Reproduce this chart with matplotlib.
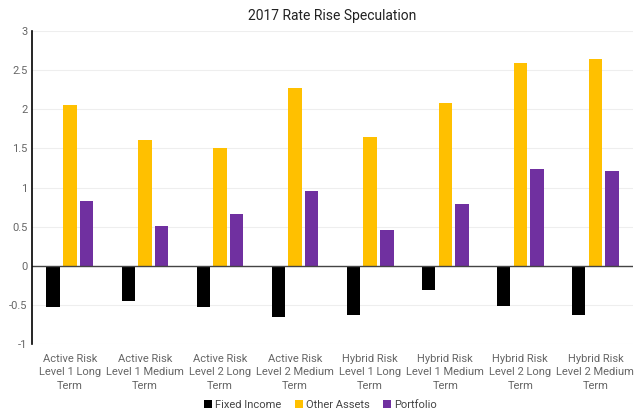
import numpy as np
import matplotlib
matplotlib.use("Agg")
import matplotlib.pyplot as plt

categories = [
    "Active Risk\nLevel 1 Long\nTerm",
    "Active Risk\nLevel 1 Medium\nTerm",
    "Active Risk\nLevel 2 Long\nTerm",
    "Active Risk\nLevel 2 Medium\nTerm",
    "Hybrid Risk\nLevel 1 Long\nTerm",
    "Hybrid Risk\nLevel 1 Medium\nTerm",
    "Hybrid Risk\nLevel 2 Long\nTerm",
    "Hybrid Risk\nLevel 2 Medium\nTerm",
]
fixed_income = [-0.53, -0.45, -0.53, -0.65, -0.62, -0.31, -0.51, -0.63]
other_assets = [2.05, 1.61, 1.505, 2.27, 1.65, 2.08, 2.59, 2.64]
portfolio = [0.83, 0.51, 0.66, 0.96, 0.46, 0.79, 1.23, 1.21]
yticks = [-1, -0.5, 0, 0.5, 1, 1.5, 2, 2.5, 3]

plt.rcParams["font.family"] = ["Roboto", "DejaVu Sans"]

fig = plt.figure(figsize=(6.41, 4.13), dpi=100)
ax = fig.add_axes([0.0504, 0.1663, 0.937, 0.7594])

x = np.arange(len(categories))
w = 0.178
pitch = 0.222
ax.bar(x - pitch, fixed_income, w, color="black", label="Fixed Income")
ax.bar(x, other_assets, w, color="#FFC000", label="Other Assets")
ax.bar(x + pitch, portfolio, w, color="#7030A0", label="Portfolio")

ax.set_xlim(-0.5, len(categories) - 0.5)
ax.set_ylim(-1, 3)
ax.set_yticks(yticks)
ax.set_yticklabels([f"{t:g}" for t in yticks])
ax.set_xticks(x)
ax.set_xticklabels(categories, linespacing=1.42)
ax.tick_params(axis="both", length=0, labelsize=8, colors="#666666")
ax.tick_params(axis="x", pad=7)
ax.grid(axis="y", color="#eeeeee", linewidth=0.8)
ax.set_axisbelow(True)
ax.axhline(0, color="#444444", linewidth=1)
for s in ["top", "right", "bottom"]:
    ax.spines[s].set_visible(False)
ax.spines["left"].set_color("black")
ax.spines["left"].set_linewidth(1.2)

ax.set_title("2017 Rate Rise Speculation", fontsize=10, color="#222222", pad=8)
leg = fig.legend(loc="lower center", bbox_to_anchor=(0.5, -0.016), ncol=3,
                 frameon=False, fontsize=8, handlelength=0.7, handleheight=0.7,
                 handletextpad=0.3, columnspacing=1.2)
for t in leg.get_texts():
    t.set_color("#444444")

fig.savefig("out.png", dpi=100)
